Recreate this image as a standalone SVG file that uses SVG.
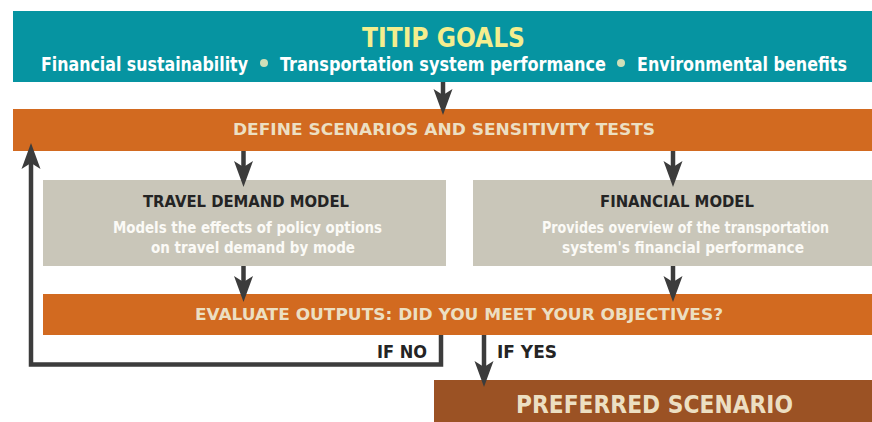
<svg xmlns="http://www.w3.org/2000/svg" width="872" height="422" viewBox="0 0 872 422">
<style>
text{font-family:"DejaVu Sans Condensed","Liberation Sans Narrow","Liberation Sans",sans-serif;font-weight:bold;}
.band{fill:#d26a20;}
.grey{fill:#c9c6b9;}
.beige{fill:#ecdfc2;}
.dark{fill:#242424;}
.wh{fill:#fbfaf6;}
.conn{stroke:#3c3c3c;stroke-width:4.5;fill:none;marker-end:url(#ah);}
</style>
<defs>
<marker id="ah" markerUnits="userSpaceOnUse" markerWidth="30" markerHeight="22" viewBox="0 -11 30 22" refX="12" refY="0" orient="auto">
<path d="M0,-9.5 L26,0 L0,9.5 L6,0 Z" fill="#3c3c3c"/>
</marker>
</defs>
<rect width="872" height="422" fill="#ffffff"/>
<g id="goals">
<rect x="13" y="11" width="859" height="71" fill="#0694a1"/>
<text x="362" y="46.5" font-size="27" fill="#f4ee8e" textLength="163" lengthAdjust="spacingAndGlyphs">TITIP GOALS</text>
<text x="41" y="71" font-size="19" fill="#ffffff" textLength="207" lengthAdjust="spacingAndGlyphs">Financial sustainability</text>
<circle cx="264" cy="63" r="4" fill="#cfdfb8"/>
<text x="280" y="71" font-size="19" fill="#ffffff" textLength="326" lengthAdjust="spacingAndGlyphs">Transportation system performance</text>
<circle cx="621" cy="63" r="4" fill="#cfdfb8"/>
<text x="637" y="71" font-size="19" fill="#ffffff" textLength="210" lengthAdjust="spacingAndGlyphs">Environmental benefits</text>
</g>
<g id="define">
<rect class="band" x="13" y="109" width="859" height="42"/>
<text class="beige" x="233" y="134.5" font-size="16.5" textLength="422" lengthAdjust="spacingAndGlyphs">DEFINE SCENARIOS AND SENSITIVITY TESTS</text>
</g>
<g id="travel">
<rect class="grey" x="43" y="180" width="403" height="86"/>
<text class="dark" x="143" y="207" font-size="16" textLength="206" lengthAdjust="spacingAndGlyphs">TRAVEL DEMAND MODEL</text>
<text class="wh" x="113" y="233" font-size="16" textLength="269" lengthAdjust="spacingAndGlyphs">Models the effects of policy options</text>
<text class="wh" x="151" y="253" font-size="16" textLength="204" lengthAdjust="spacingAndGlyphs">on travel demand by mode</text>
</g>
<g id="financial">
<rect class="grey" x="473" y="180" width="399" height="86"/>
<text class="dark" x="600" y="207" font-size="16" textLength="154" lengthAdjust="spacingAndGlyphs">FINANCIAL MODEL</text>
<text class="wh" x="542" y="233" font-size="16" textLength="287" lengthAdjust="spacingAndGlyphs">Provides overview of the transportation</text>
<text class="wh" x="562" y="253" font-size="16" textLength="242" lengthAdjust="spacingAndGlyphs">system's financial performance</text>
</g>
<g id="evaluate">
<rect class="band" x="43" y="294" width="829" height="41"/>
<text class="beige" x="195" y="319.5" font-size="16.5" textLength="528" lengthAdjust="spacingAndGlyphs">EVALUATE OUTPUTS: DID YOU MEET YOUR OBJECTIVES?</text>
</g>
<g id="preferred">
<rect x="434" y="380" width="438" height="42" fill="#9b5224"/>
<text class="beige" x="516" y="412.5" font-size="25" textLength="277" lengthAdjust="spacingAndGlyphs">PREFERRED SCENARIO</text>
</g>
<g id="connectors">
<path class="conn" d="M443,82 V101"/>
<path class="conn" d="M243.5,151 V173"/>
<path class="conn" d="M673,151 V173"/>
<path class="conn" d="M243.5,266 V288"/>
<path class="conn" d="M673,266 V288"/>
<path class="conn" d="M441,335 V364.5 H31 V157" stroke-linejoin="miter"/>
<path class="conn" d="M484,335 V373"/>
<text class="dark" x="377" y="357.5" font-size="18" textLength="50" lengthAdjust="spacingAndGlyphs">IF NO</text>
<text class="dark" x="497" y="357.5" font-size="18" textLength="60" lengthAdjust="spacingAndGlyphs">IF YES</text>
</g>
</svg>
